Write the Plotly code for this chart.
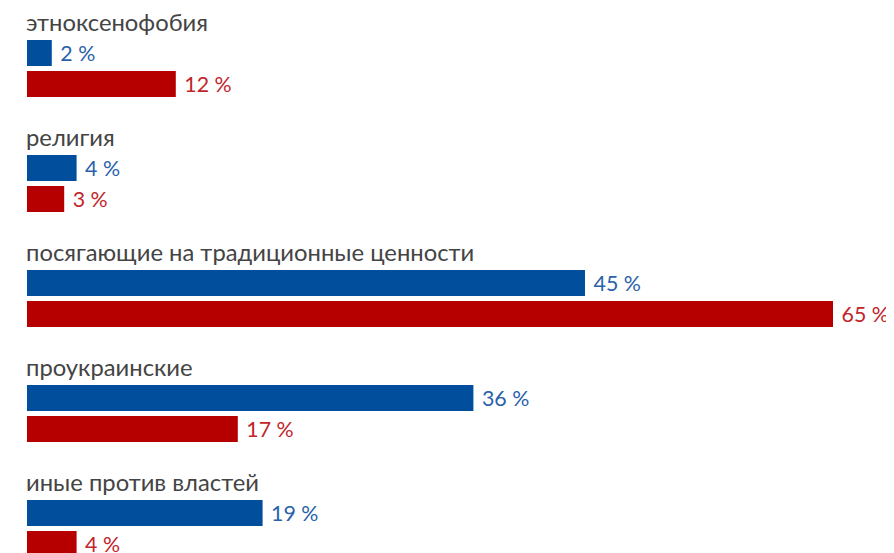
import plotly.graph_objects as go

categories = ["этноксенофобия", "религия", "посягающие на традиционные ценности",
              "проукраинские", "иные против властей"]
blue_values = [2, 4, 45, 36, 19]
red_values = [12, 3, 65, 17, 4]

BLUE = "#014f9c"
RED = "#b60000"
BLUE_TXT = "#2a62aa"
RED_TXT = "#c1262b"
FONT = "Source Sans Pro, Lato, Noto Sans, sans-serif"

step = 3.71
bar_w = 0.84
blue_y = [i * step for i in range(len(categories))]
red_y = [i * step + 1 for i in range(len(categories))]
label_y = [i * step - 1.0 for i in range(len(categories))]

fig = go.Figure()
fig.add_trace(go.Bar(
    x=blue_values, y=blue_y, orientation="h", width=bar_w,
    marker=dict(color=BLUE, line=dict(width=0)),
    text=[f" {v} %" for v in blue_values], textposition="outside",
    textfont=dict(color=BLUE_TXT, size=23, family=FONT), cliponaxis=False,
))
fig.add_trace(go.Bar(
    x=red_values, y=red_y, orientation="h", width=bar_w,
    marker=dict(color=RED, line=dict(width=0)),
    text=[f" {v} %" for v in red_values], textposition="outside",
    textfont=dict(color=RED_TXT, size=23, family=FONT), cliponaxis=False,
))
for c, ly in zip(categories, label_y):
    fig.add_annotation(x=0, y=ly, text=c, showarrow=False, xanchor="left",
                       yanchor="middle", xshift=-3,
                       font=dict(size=23.8, color="#444444", family=FONT))

W, H = 886, 545
x0 = 19      # pixel of value 0 inside the figure
y0 = 45      # pixel of first blue bar centre inside the figure
px_per = 12.4
py_per = 31
fig.update_layout(
    width=W, height=H, margin=dict(l=0, r=0, t=0, b=0),
    paper_bgcolor="white", plot_bgcolor="white", showlegend=False,
    hovermode=False, barmode="overlay",
    xaxis=dict(range=[-x0 / px_per, (W - x0) / px_per], visible=False, fixedrange=True),
    yaxis=dict(range=[(H - y0) / py_per, -y0 / py_per], visible=False, fixedrange=True),
)
fig.write_html("out.html")
